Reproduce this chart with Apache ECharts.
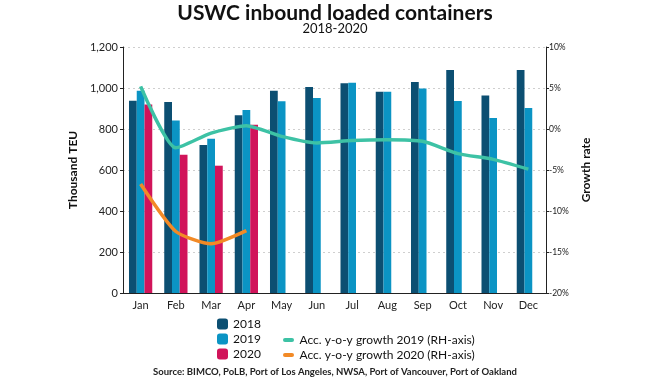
<!DOCTYPE html>
<html>
<head>
<meta charset="utf-8">
<script src="https://cdn.jsdelivr.net/npm/echarts@6/dist/echarts.min.js"></script>
<style>html,body{margin:0;padding:0;background:#fff}#c{width:670px;height:380px}</style>
</head>
<body>
<div id="c"></div>
<script>
var months = ['Jan','Feb','Mar','Apr','May','Jun','Jul','Aug','Sep','Oct','Nov','Dec'];
var teu2018 = [938, 932, 722, 867, 987, 1005, 1023, 982, 1029, 1088, 964, 1088];
var teu2019 = [987, 841, 753, 893, 935, 951, 1026, 982, 997, 937, 854, 902];
var teu2020 = [920, 675, 621, 821, null, null, null, null, null, null, null, null];
var growth2019 = [5.2, -2.3, -0.5, 0.4, -0.9, -1.7, -1.4, -1.3, -1.5, -3.0, -3.7, -4.9];
var growth2020 = [-6.7, -12.5, -14.0, -12.4, null, null, null, null, null, null, null, null];
var leftTicks = {min: 0, max: 1200, interval: 200};
var rightTicks = {min: -20, max: 10, interval: 5};

var FONT = 'Lato';
var chart = echarts.init(document.getElementById('c'), null, {renderer: 'canvas'});
var lineIcon = 'path://M2,0 L9,0 A2,2 0 0 1 9,4 L2,4 A2,2 0 0 1 2,0 Z';
chart.setOption({
  animation: false,
  textStyle: {fontFamily: FONT},
  title: [
    {text: 'USWC inbound loaded containers', left: 'center', top: -2,
     textStyle: {fontFamily: FONT, fontWeight: 'bold', fontSize: 21, color: '#111'}},
    {text: '2018-2020', left: 'center', top: 17,
     textStyle: {fontFamily: FONT, fontWeight: 'normal', fontSize: 13, color: '#111'}},
    {text: 'Source: BIMCO, PoLB, Port of Los Angeles, NWSA, Port of Vancouver, Port of Oakland', left: 'center', top: 362,
     textStyle: {fontFamily: FONT, fontWeight: 'bold', fontSize: 9.5, color: '#222'}}
  ],
  legend: [
    {orient: 'vertical', left: 212, top: 313, itemWidth: 11, itemHeight: 11, itemGap: 3,
     textStyle: {fontFamily: FONT, fontSize: 12, color: '#111'},
     data: ['2018','2019','2020']},
    {orient: 'vertical', left: 278, top: 329, itemWidth: 12, itemHeight: 4, itemGap: 3,
     textStyle: {fontFamily: FONT, fontSize: 12, color: '#111'},
     data: [{name: 'Acc. y-o-y growth 2019 (RH-axis)', icon: lineIcon},
            {name: 'Acc. y-o-y growth 2020 (RH-axis)', icon: lineIcon}]}
  ],
  grid: {left: 123, right: 124, top: 47, bottom: 87},
  xAxis: {
    type: 'category', data: months,
    axisLine: {lineStyle: {color: '#222', width: 1}},
    axisTick: {show: false},
    axisLabel: {fontFamily: FONT, fontSize: 11, color: '#222', margin: 7}
  },
  yAxis: [
    {type: 'value', min: leftTicks.min, max: leftTicks.max, interval: leftTicks.interval,
     name: 'Thousand TEU', nameLocation: 'middle', nameGap: 33, nameRotate: 90,
     nameTextStyle: {fontFamily: FONT, fontWeight: 'bold', fontSize: 12, color: '#111'},
     axisLine: {show: true, lineStyle: {color: '#222'}},
     axisTick: {show: true, length: 3, lineStyle: {color: '#222'}},
     axisLabel: {fontFamily: FONT, fontSize: 11, color: '#222', margin: 5,
       formatter: function(v){return v.toLocaleString('en-US');}},
     splitLine: {show: true, lineStyle: {color: '#cfcfcf', type: [2,3], width: 1}}},
    {type: 'value', min: rightTicks.min, max: rightTicks.max, interval: rightTicks.interval,
     position: 'right',
     name: 'Growth rate', nameLocation: 'middle', nameGap: 30, nameRotate: 90,
     nameTextStyle: {fontFamily: FONT, fontWeight: 'bold', fontSize: 12, color: '#111'},
     axisLine: {show: true, lineStyle: {color: '#222'}},
     axisTick: {show: true, length: 3, lineStyle: {color: '#222'}},
     axisLabel: {fontFamily: FONT, fontSize: 8.5, color: '#222', margin: 3, formatter: '{value}%'},
     splitLine: {show: false}}
  ],
  series: [
    {name: '2018', type: 'bar', data: teu2018, itemStyle: {color: '#0c4f72'}, barGap: '0%', barCategoryGap: '34%'},
    {name: '2019', type: 'bar', data: teu2019, itemStyle: {color: '#0b94c4'}},
    {name: '2020', type: 'bar', data: teu2020, itemStyle: {color: '#d1145a'}},
    {name: 'Acc. y-o-y growth 2019 (RH-axis)', type: 'line', yAxisIndex: 1, data: growth2019,
     smooth: 0.2, showSymbol: false, symbol: 'none',
     lineStyle: {color: '#3dc2a5', width: 3.5}, itemStyle: {color: '#3dc2a5'}},
    {name: 'Acc. y-o-y growth 2020 (RH-axis)', type: 'line', yAxisIndex: 1, data: growth2020,
     smooth: 0.2, showSymbol: false, symbol: 'none',
     lineStyle: {color: '#f28a26', width: 3.5}, itemStyle: {color: '#f28a26'}}
  ]
});
</script>
</body>
</html>
